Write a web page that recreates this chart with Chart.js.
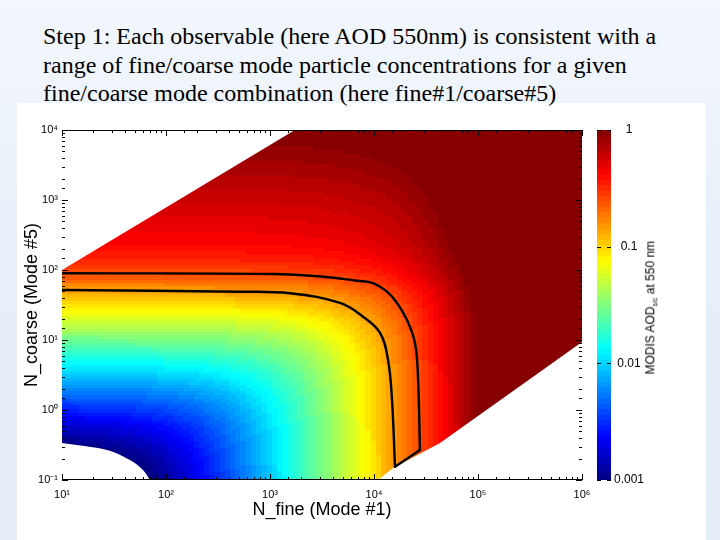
<!DOCTYPE html>
<html>
<head>
<meta charset="utf-8">
<script src="https://cdn.jsdelivr.net/npm/chart.js@4/dist/chart.umd.min.js"></script>
<style>
html,body{margin:0;padding:0;}
body{width:720px;height:540px;position:relative;overflow:hidden;
  background:linear-gradient(180deg,#f3f7fc 0%,#e8f0f9 40%,#e4edf8 100%);}
#panel{position:absolute;left:17px;top:103px;width:689px;height:437px;background:#ffffff;}
#heading{position:absolute;left:43px;top:22px;font-family:"Liberation Serif","Times New Roman",serif;
  font-size:24px;line-height:28.5px;color:#000;white-space:nowrap;}
#main{position:absolute;left:0;top:0;}
#cbar{position:absolute;left:580px;top:0;}
#cbtitle{position:absolute;left:553px;top:297px;width:200px;text-align:center;
  font-family:"Liberation Sans",Arial,sans-serif;font-size:12px;line-height:16px;color:#000;
  transform:rotate(-90deg);white-space:nowrap;}
#cbtitle sub{font-size:7px;}
</style>
</head>
<body>
<div id="panel"></div>
<div id="heading">Step 1: Each observable (here AOD 550nm) is consistent with a<br>range of fine/coarse mode particle concentrations for a given<br>fine/coarse mode combination (here fine#1/coarse#5)</div>
<canvas id="main" width="720" height="540"></canvas>
<canvas id="cbar" width="140" height="540"></canvas>
<div id="cbtitle">MODIS AOD<sub>s/c</sub> at 550 nm</div>
<script>
// ---------------- data ----------------
// grid nodes along each axis (particle concentrations)
const fineConc = [
  10,11.2,12.6,14.1,15.8,17.8,20,22.4,25.1,28.2,31.6,35.5,39.8,44.7,50.1,56.2,63.1,70.8,79.4,89.1,
  100,112,126,141,158,178,200,224,251,282,316,355,398,447,501,562,631,708,794,891,
  1000,1120,1260,1410,1580,1780,2000,2240,2510,2820,3160,3550,3980,4470,5010,5620,6310,7080,7940,8910,
  10000,11200,12600,14100,15800,17800,20000,22400,25100,28200,31600,35500,39800,44700,50100,56200,63100,70800,79400,89100,
  100000,112000,126000,141000,158000,178000,200000,224000,251000,282000,316000,355000,398000,447000,501000,562000,631000,708000,794000,891000,
  1000000];
const coarseConc = [
  0.1,0.112,0.126,0.141,0.158,0.178,0.2,0.224,0.251,0.282,0.316,0.355,0.398,0.447,0.501,0.562,0.631,0.708,0.794,0.891,
  1,1.12,1.26,1.41,1.58,1.78,2,2.24,2.51,2.82,3.16,3.55,3.98,4.47,5.01,5.62,6.31,7.08,7.94,8.91,
  10,11.2,12.6,14.1,15.8,17.8,20,22.4,25.1,28.2,31.6,35.5,39.8,44.7,50.1,56.2,63.1,70.8,79.4,89.1,
  100,112,126,141,158,178,200,224,251,282,316,355,398,447,501,562,631,708,794,891,
  1000,1120,1260,1410,1580,1780,2000,2240,2510,2820,3160,3550,3980,4470,5010,5620,6310,7080,7940,8910,
  10000];
// AOD contributed by the fine mode at each fine node (read along the lower edge)
const fineModeAod = [
  9.20e-5,1.03e-4,1.16e-4,1.30e-4,1.46e-4,1.64e-4,1.84e-4,2.06e-4,2.31e-4,2.59e-4,2.91e-4,3.26e-4,3.66e-4,4.11e-4,4.61e-4,5.17e-4,5.81e-4,6.51e-4,7.31e-4,8.20e-4,
  9.20e-4,1.03e-3,1.16e-3,1.30e-3,1.46e-3,1.64e-3,1.84e-3,2.06e-3,2.31e-3,2.59e-3,2.91e-3,3.26e-3,3.66e-3,4.11e-3,4.61e-3,5.17e-3,5.81e-3,6.51e-3,7.31e-3,8.20e-3,
  9.20e-3,1.03e-2,1.16e-2,1.30e-2,1.46e-2,1.64e-2,1.84e-2,2.06e-2,2.31e-2,2.59e-2,2.91e-2,3.26e-2,3.66e-2,4.11e-2,4.61e-2,5.17e-2,5.81e-2,6.51e-2,7.31e-2,8.20e-2,
  9.20e-2,1.03e-1,1.16e-1,1.30e-1,1.46e-1,1.64e-1,1.84e-1,2.06e-1,2.31e-1,2.59e-1,2.91e-1,3.26e-1,3.66e-1,4.11e-1,4.61e-1,5.17e-1,5.81e-1,6.51e-1,7.31e-1,8.20e-1,
  0.92,1.03,1.16,1.30,1.46,1.64,1.84,2.06,2.31,2.59,2.91,3.26,3.66,4.11,4.61,5.17,5.81,6.51,7.31,8.20,
  9.2];
// AOD contributed by the coarse mode at each coarse node (read along the left edge / upper-left band)
const coarseModeAod = [
  2.80e-4,3.14e-4,3.53e-4,3.96e-4,4.44e-4,4.98e-4,5.59e-4,6.27e-4,7.03e-4,7.89e-4,8.85e-4,9.93e-4,1.11e-3,1.25e-3,1.40e-3,1.57e-3,1.77e-3,1.98e-3,2.22e-3,2.50e-3,
  2.80e-3,3.14e-3,3.53e-3,3.96e-3,4.44e-3,4.98e-3,5.59e-3,6.27e-3,7.03e-3,7.89e-3,8.85e-3,9.93e-3,1.11e-2,1.25e-2,1.40e-2,1.57e-2,1.77e-2,1.98e-2,2.22e-2,2.50e-2,
  0.0280,0.0314,0.0353,0.0396,0.0444,0.0498,0.0559,0.0627,0.0703,0.0789,0.0885,0.0993,0.111,0.125,0.140,0.157,0.177,0.198,0.221,0.245,
  0.268,0.291,0.314,0.335,0.355,0.373,0.390,0.406,0.422,0.436,0.450,0.463,0.475,0.488,0.501,0.515,0.528,0.543,0.557,0.572,
  0.588,0.603,0.619,0.636,0.653,0.671,0.689,0.707,0.726,0.745,0.765,0.786,0.807,0.829,0.851,0.874,0.897,0.922,0.947,0.972,
  0.998];
// black contour lines (observed AOD range)
const contourOuterFine   = [10,1069,3236,6871,9772,13335,16634,20749,24774,26485,27669];
const contourOuterCoarse = [89.7,87.7,80.2,70.3,65.2,49.0,33.8,19.3,9.06,2.96,0.269];
const contourInnerFine   = [10,515,1556,4710,7834,11429,13646,14894,15922];
const contourInnerCoarse = [51.8,49.0,46.5,33.8,21.5,12.6,5.18,1.39,0.155];
const contourJoinFine    = [27669,15922];
const contourJoinCoarse  = [0.269,0.155];
// edges of the blank (no data) regions
const blankUpperFine = [10,1738];
const blankUpperCoarse = [100,10000];
const blankLowerRightFine = [10915,15240,43150,1000000];
const blankLowerRightCoarse = [0.1,0.148,0.338,9.35];
const blankLowerLeftFine = [10,27.1,45.1,60.1,70.1];
const blankLowerLeftCoarse = [0.338,0.2685,0.193,0.139,0.1];
// ticks
const xTickValues = [10,100,1000,10000,100000,1000000];
const xTickLabels = ['10\u00b9','10\u00b2','10\u00b3','10\u2074','10\u2075','10\u2076'];
const yTickValues = [0.1,1,10,100,1000,10000];
const yTickLabels = ['10\u207b\u00b9','10\u2070','10\u00b9','10\u00b2','10\u00b3','10\u2074'];
const cbTickValues = [0.001,0.01,0.1,1];
const cbTickLabels = ['0.001','0.01','0.1','1'];
const aodRange = [0.001,1];

// ---------------- helpers ----------------
const FONT = '"Liberation Sans", Arial, sans-serif';
const NLEV = 64;
function jet(t){
  t = Math.min(1, Math.max(0, t));
  const c = v => Math.round(255*Math.min(1, Math.max(0, v)));
  return [c(1.5-Math.abs(4*t-3)), c(1.5-Math.abs(4*t-2)), c(1.5-Math.abs(4*t-1))];
}
const L0 = Math.log10(aodRange[0]), L1 = Math.log10(aodRange[1]);
function levelOf(aod){
  const t = (Math.log10(aod)-L0)/(L1-L0);
  return Math.min(NLEV-1, Math.max(0, Math.floor(t*NLEV)));
}
function levelColor(k){ const [r,g,b] = jet((k+0.5)/NLEV); return 'rgb('+r+','+g+','+b+')'; }
const CELL_W = 7, CELL_H = 5;
const cellImgs = [];
for (let k=0;k<NLEV;k++){
  const c = document.createElement('canvas'); c.width = CELL_W; c.height = CELL_H;
  const g = c.getContext('2d'); g.fillStyle = levelColor(k); g.fillRect(0,0,CELL_W,CELL_H);
  cellImgs.push(c);
}
const zip = (xs, ys) => xs.map((x,i) => ({x:x, y:ys[i]}));
function tickIndex(list, v){
  for (let i=0;i<list.length;i++) if (Math.abs(Math.log10(v)-Math.log10(list[i]))<1e-6) return i;
  return -1;
}
const heatPoints = [];
for (let j=0;j<coarseConc.length;j++)
  for (let i=0;i<fineConc.length;i++)
    heatPoints.push({x:fineConc[i], y:coarseConc[j], aod:fineModeAod[i]+coarseModeAod[j]});

const inwardTicks = {
  id:'inwardTicks',
  afterDraw(chart){
    const {ctx, chartArea:a, scales:{x, y}} = chart;
    ctx.save(); ctx.strokeStyle = '#000'; ctx.lineWidth = 1; ctx.beginPath();
    x.ticks.forEach(t => {
      const px = Math.round(x.getPixelForValue(t.value)) + 0.5;
      const L = tickIndex(xTickValues, t.value) >= 0 ? 6 : 3;
      ctx.moveTo(px, a.bottom); ctx.lineTo(px, a.bottom-L);
      ctx.moveTo(px, a.top); ctx.lineTo(px, a.top+L);
    });
    y.ticks.forEach(t => {
      const py = Math.round(y.getPixelForValue(t.value)) + 0.5;
      const L = tickIndex(yTickValues, t.value) >= 0 ? 6 : 3;
      ctx.moveTo(a.left, py); ctx.lineTo(a.left+L, py);
      ctx.moveTo(a.right, py); ctx.lineTo(a.right-L, py);
    });
    ctx.moveTo(a.left, a.top+0.5); ctx.lineTo(a.right, a.top+0.5);
    ctx.moveTo(a.left, a.bottom-0.5); ctx.lineTo(a.right, a.bottom-0.5);
    ctx.stroke(); ctx.restore();
  }
};

const contourStyle = {type:'line', borderColor:'#000', borderWidth:2.4, pointRadius:0, fill:false,
  order:0, clip:0, borderJoinStyle:'round', borderCapStyle:'round'};
const blankStyle = {type:'line', borderWidth:0, borderColor:'rgba(0,0,0,0)', backgroundColor:'#ffffff',
  pointRadius:0, order:1, clip:0};

new Chart(document.getElementById('main'), {
  type:'scatter',
  data:{datasets:[
    Object.assign({data:zip(contourOuterFine, contourOuterCoarse), tension:0.4}, contourStyle),
    Object.assign({data:zip(contourInnerFine, contourInnerCoarse), tension:0.4}, contourStyle),
    Object.assign({data:zip(contourJoinFine, contourJoinCoarse), tension:0}, contourStyle),
    Object.assign({data:zip(blankUpperFine, blankUpperCoarse), fill:'end'}, blankStyle),
    Object.assign({data:zip(blankLowerRightFine, blankLowerRightCoarse), fill:'start'}, blankStyle),
    Object.assign({data:zip(blankLowerLeftFine, blankLowerLeftCoarse), fill:'start', tension:0.3}, blankStyle),
    {type:'scatter', data:heatPoints, pointStyle:ctx => cellImgs[levelOf(ctx.raw.aod)],
     pointRadius:2, borderWidth:0, order:2, clip:0}
  ]},
  options:{
    responsive:false, animation:false, events:[],
    layout:{padding:{left:0, top:130, right:138, bottom:0}},
    plugins:{legend:{display:false}, tooltip:{enabled:false}},
    scales:{
      x:{type:'logarithmic', min:10, max:1000000,
         afterFit:s => { s.height = 60; },
         grid:{display:false, drawTicks:false}, border:{display:false},
         ticks:{autoSkip:false, maxRotation:0, minRotation:0, padding:8, color:'#000',
                font:{family:FONT, size:11},
                callback:v => { const k = tickIndex(xTickValues, v); return k>=0 ? xTickLabels[k] : ''; }},
         title:{display:true, text:'N_fine (Mode #1)', color:'#000', font:{family:FONT, size:18},
                padding:{top:0, bottom:19}}},
      y:{type:'logarithmic', min:0.1, max:10000,
         afterFit:s => { s.width = 62; },
         grid:{display:false, drawTicks:false}, border:{display:false},
         ticks:{autoSkip:false, padding:4, color:'#000', font:{family:FONT, size:11},
                callback:v => { const k = tickIndex(yTickValues, v); return k>=0 ? yTickLabels[k] : ''; }},
         title:{display:true, text:'N_coarse (Mode #5)', color:'#000', font:{family:FONT, size:18},
                padding:{top:21, bottom:0}}}
    }
  },
  plugins:[inwardTicks]
});

// ---------------- colour bar ----------------
const cbDatasets = [];
for (let d=0; d<NLEV; d++){
  const k = NLEV-1-d;
  const lo = Math.pow(10, L0 + (L1-L0)*k/NLEV);
  cbDatasets.push({data:[[lo, aodRange[1]]], backgroundColor:levelColor(k), borderWidth:0,
    grouped:false, barPercentage:1, categoryPercentage:1});
}
const cbTicks = {
  id:'cbTicks',
  afterDraw(chart){
    const {ctx, chartArea:a, scales:{y}} = chart;
    ctx.save(); ctx.strokeStyle = '#000'; ctx.lineWidth = 1; ctx.beginPath();
    cbTickValues.forEach(v => {
      const py = Math.round(y.getPixelForValue(v)) + 0.5;
      ctx.moveTo(a.left, py); ctx.lineTo(a.left+4, py);
      ctx.moveTo(a.right, py); ctx.lineTo(a.right-4, py);
    });
    ctx.stroke(); ctx.restore();
  }
};
new Chart(document.getElementById('cbar'), {
  type:'bar',
  data:{labels:['AOD'], datasets:cbDatasets},
  options:{
    responsive:false, animation:false, events:[],
    layout:{padding:{left:17, top:130, right:0, bottom:60}},
    plugins:{legend:{display:false}, tooltip:{enabled:false}},
    scales:{
      x:{display:false},
      y:{type:'logarithmic', position:'right', min:aodRange[0], max:aodRange[1],
         afterFit:s => { s.width = 109; },
         grid:{display:false, drawTicks:false}, border:{display:false},
         ticks:{autoSkip:false, padding:3, crossAlign:'center', color:'#000', font:{family:FONT, size:12},
                callback:v => { const k = tickIndex(cbTickValues, v); return k>=0 ? cbTickLabels[k] : ''; }}}
    }
  },
  plugins:[cbTicks]
});
</script>
</body>
</html>
